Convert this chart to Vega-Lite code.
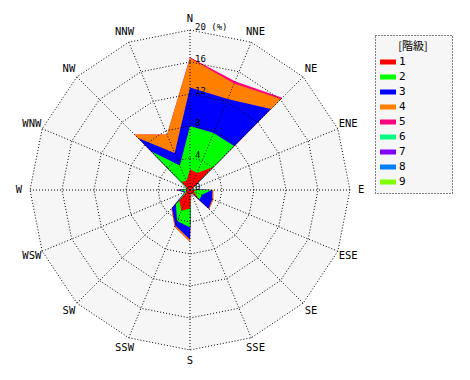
{
  "$schema": "https://vega.github.io/schema/vega-lite/v6.json",
  "width": 470,
  "height": 380,
  "padding": 0,
  "autosize": {"type": "none"},
  "background": "white",
  "config": {"view": {"stroke": null}, "axis": {"disable": true}},
  "datasets": {
    "wind": [
      {"dir":"N","deg":0,"class":1,"v":2.6},{"dir":"N","deg":0,"class":2,"v":5.4},{"dir":"N","deg":0,"class":3,"v":4.8},{"dir":"N","deg":0,"class":4,"v":3.7},{"dir":"N","deg":0,"class":5,"v":0.1},
      {"dir":"NNE","deg":22.5,"class":1,"v":2.3},{"dir":"NNE","deg":22.5,"class":2,"v":5.4},{"dir":"NNE","deg":22.5,"class":3,"v":4.6},{"dir":"NNE","deg":22.5,"class":4,"v":2.1},{"dir":"NNE","deg":22.5,"class":5,"v":0.3},
      {"dir":"NE","deg":45,"class":1,"v":4.0},{"dir":"NE","deg":45,"class":2,"v":3.8},{"dir":"NE","deg":45,"class":3,"v":6.5},{"dir":"NE","deg":45,"class":4,"v":1.8},{"dir":"NE","deg":45,"class":5,"v":0.2},
      {"dir":"ENE","deg":67.5,"class":1,"v":0.2},{"dir":"ENE","deg":67.5,"class":2,"v":0.05},{"dir":"ENE","deg":67.5,"class":3,"v":0.05},{"dir":"ENE","deg":67.5,"class":4,"v":0},{"dir":"ENE","deg":67.5,"class":5,"v":0},
      {"dir":"E","deg":90,"class":1,"v":0.8},{"dir":"E","deg":90,"class":2,"v":1.9},{"dir":"E","deg":90,"class":3,"v":0.1},{"dir":"E","deg":90,"class":4,"v":0.1},{"dir":"E","deg":90,"class":5,"v":0},
      {"dir":"ESE","deg":112.5,"class":1,"v":0.5},{"dir":"ESE","deg":112.5,"class":2,"v":1.1},{"dir":"ESE","deg":112.5,"class":3,"v":1.4},{"dir":"ESE","deg":112.5,"class":4,"v":0.15},{"dir":"ESE","deg":112.5,"class":5,"v":0},
      {"dir":"SE","deg":135,"class":1,"v":1.5},{"dir":"SE","deg":135,"class":2,"v":0.2},{"dir":"SE","deg":135,"class":3,"v":1.6},{"dir":"SE","deg":135,"class":4,"v":0.1},{"dir":"SE","deg":135,"class":5,"v":0},
      {"dir":"SSE","deg":157.5,"class":1,"v":0.3},{"dir":"SSE","deg":157.5,"class":2,"v":0.05},{"dir":"SSE","deg":157.5,"class":3,"v":0.05},{"dir":"SSE","deg":157.5,"class":4,"v":0},{"dir":"SSE","deg":157.5,"class":5,"v":0},
      {"dir":"S","deg":180,"class":1,"v":2.3},{"dir":"S","deg":180,"class":2,"v":2.4},{"dir":"S","deg":180,"class":3,"v":1.5},{"dir":"S","deg":180,"class":4,"v":0.3},{"dir":"S","deg":180,"class":5,"v":0},
      {"dir":"SSW","deg":202.5,"class":1,"v":2.8},{"dir":"SSW","deg":202.5,"class":2,"v":1.4},{"dir":"SSW","deg":202.5,"class":3,"v":0.6},{"dir":"SSW","deg":202.5,"class":4,"v":0.2},{"dir":"SSW","deg":202.5,"class":5,"v":0},
      {"dir":"SW","deg":225,"class":1,"v":1.9},{"dir":"SW","deg":225,"class":2,"v":0.6},{"dir":"SW","deg":225,"class":3,"v":0.7},{"dir":"SW","deg":225,"class":4,"v":0.1},{"dir":"SW","deg":225,"class":5,"v":0},
      {"dir":"WSW","deg":247.5,"class":1,"v":0.4},{"dir":"WSW","deg":247.5,"class":2,"v":0.2},{"dir":"WSW","deg":247.5,"class":3,"v":0.1},{"dir":"WSW","deg":247.5,"class":4,"v":0},{"dir":"WSW","deg":247.5,"class":5,"v":0},
      {"dir":"W","deg":270,"class":1,"v":0.5},{"dir":"W","deg":270,"class":2,"v":0.8},{"dir":"W","deg":270,"class":3,"v":0.4},{"dir":"W","deg":270,"class":4,"v":0.1},{"dir":"W","deg":270,"class":5,"v":0},
      {"dir":"WNW","deg":292.5,"class":1,"v":0.3},{"dir":"WNW","deg":292.5,"class":2,"v":0.05},{"dir":"WNW","deg":292.5,"class":3,"v":0.05},{"dir":"WNW","deg":292.5,"class":4,"v":0},{"dir":"WNW","deg":292.5,"class":5,"v":0},
      {"dir":"NW","deg":315,"class":1,"v":1.5},{"dir":"NW","deg":315,"class":2,"v":5.3},{"dir":"NW","deg":315,"class":3,"v":2.4},{"dir":"NW","deg":315,"class":4,"v":0.6},{"dir":"NW","deg":315,"class":5,"v":0},
      {"dir":"NNW","deg":337.5,"class":1,"v":1.2},{"dir":"NNW","deg":337.5,"class":2,"v":2.1},{"dir":"NNW","deg":337.5,"class":3,"v":1.7},{"dir":"NNW","deg":337.5,"class":4,"v":2.5},{"dir":"NNW","deg":337.5,"class":5,"v":0}
    ],
    "rings": [
      {"r":4,"deg":[0,22.5,45,67.5,90,112.5,135,157.5,180,202.5,225,247.5,270,292.5,315,337.5]},
      {"r":8,"deg":[0,22.5,45,67.5,90,112.5,135,157.5,180,202.5,225,247.5,270,292.5,315,337.5]},
      {"r":12,"deg":[0,22.5,45,67.5,90,112.5,135,157.5,180,202.5,225,247.5,270,292.5,315,337.5]},
      {"r":16,"deg":[0,22.5,45,67.5,90,112.5,135,157.5,180,202.5,225,247.5,270,292.5,315,337.5]},
      {"r":20,"deg":[0,22.5,45,67.5,90,112.5,135,157.5,180,202.5,225,247.5,270,292.5,315,337.5]}
    ],
    "dirs": [
      {"dir":"N","deg":0},{"dir":"NNE","deg":22.5},{"dir":"NE","deg":45},{"dir":"ENE","deg":67.5},
      {"dir":"E","deg":90},{"dir":"ESE","deg":112.5},{"dir":"SE","deg":135},{"dir":"SSE","deg":157.5},
      {"dir":"S","deg":180},{"dir":"SSW","deg":202.5},{"dir":"SW","deg":225},{"dir":"WSW","deg":247.5},
      {"dir":"W","deg":270},{"dir":"WNW","deg":292.5},{"dir":"NW","deg":315},{"dir":"NNW","deg":337.5}
    ],
    "ringlabels": [
      {"r":0,"t":"0"},{"r":4,"t":"4"},{"r":8,"t":"8"},{"r":12,"t":"12"},{"r":16,"t":"16"},{"r":20,"t":"20 (%)"}
    ]
  },
  "layer": [
    {
      "data": {"name": "rings"},
      "transform": [
        {"filter": "datum.r == 20"},
        {"flatten": ["deg"]},
        {"calculate": "datum.r * sin(datum.deg * PI / 180)", "as": "x"},
        {"calculate": "datum.r * cos(datum.deg * PI / 180)", "as": "y"}
      ],
      "mark": {"type": "line", "filled": true, "color": "#f6f6f6", "strokeWidth": 0, "interpolate": "linear-closed"},
      "encoding": {
        "x": {"field": "x", "type": "quantitative", "scale": {"domain": [-23.75, 35], "nice": false, "zero": false}},
        "y": {"field": "y", "type": "quantitative", "scale": {"domain": [-23.75, 23.75], "nice": false, "zero": false}},
        "order": {"field": "deg", "type": "quantitative"}
      }
    },
    {
      "data": {"name": "wind"},
      "transform": [
        {"window": [{"op": "sum", "field": "v", "as": "cum"}], "groupby": ["dir"], "sort": [{"field": "class"}], "frame": [null, 0]},
        {"calculate": "datum.cum * sin(datum.deg * PI / 180)", "as": "x"},
        {"calculate": "datum.cum * cos(datum.deg * PI / 180)", "as": "y"}
      ],
      "layer": [
        {
          "transform": [{"filter": "datum.class == 5"}],
          "mark": {"type": "line", "filled": true, "strokeWidth": 0, "interpolate": "linear-closed"},
          "encoding": {
            "x": {"field": "x", "type": "quantitative", "scale": {"domain": [-23.75, 35], "nice": false, "zero": false}},
            "y": {"field": "y", "type": "quantitative", "scale": {"domain": [-23.75, 23.75], "nice": false, "zero": false}},
            "order": {"field": "deg", "type": "quantitative"},
            "color": {
              "field": "class", "type": "nominal",
              "scale": {"domain": [1,2,3,4,5,6,7,8,9], "range": ["#ff0000","#00ff00","#0000ff","#ff8000","#ff0080","#00ff80","#8000ff","#0080ff","#80ff00"]},
              "legend": {
                "title": "[階級]",
                "orient": "none",
                "legendX": 375,
                "legendY": 35,
                "padding": 6,
                "fillColor": "#f6f6f6",
                "strokeColor": "black",
                "titleFont": "Noto Sans CJK JP",
                "titleFontSize": 11,
                "titleFontWeight": "normal",
                "titleColor": "black",
                "titleAnchor": "middle",
                "titlePadding": 4,
                "labelFont": "DejaVu Sans Mono",
                "labelFontSize": 11,
                "labelColor": "black",
                "labelExpr": "datum.label + '\u2800\u2800\u2800\u2800\u2800'",
                "labelOffset": 5,
                "symbolType": "M-1.333,-0.417H1.333V0.417H-1.333Z",
                "symbolSize": 144,
                "symbolOffset": 1,
                "symbolStrokeWidth": 0,
                "rowPadding": 4,
                "encode": {
                  "legend": {"update": {"strokeDash": {"value": [1, 2]}}},
                  "symbols": {"update": {"fill": {"scale": "color", "field": "value"}, "stroke": {"value": "transparent"}, "opacity": {"value": 1}}}
                }
              }
            }
          }
        },
        {
          "transform": [{"filter": "datum.class == 4"}],
          "mark": {"type": "line", "filled": true, "strokeWidth": 0, "interpolate": "linear-closed"},
          "encoding": {
            "x": {"field": "x", "type": "quantitative", "scale": {"domain": [-23.75, 35], "nice": false, "zero": false}},
            "y": {"field": "y", "type": "quantitative", "scale": {"domain": [-23.75, 23.75], "nice": false, "zero": false}},
            "order": {"field": "deg", "type": "quantitative"},
            "color": {"field": "class", "type": "nominal"}
          }
        },
        {
          "transform": [{"filter": "datum.class == 3"}],
          "mark": {"type": "line", "filled": true, "strokeWidth": 0, "interpolate": "linear-closed"},
          "encoding": {
            "x": {"field": "x", "type": "quantitative", "scale": {"domain": [-23.75, 35], "nice": false, "zero": false}},
            "y": {"field": "y", "type": "quantitative", "scale": {"domain": [-23.75, 23.75], "nice": false, "zero": false}},
            "order": {"field": "deg", "type": "quantitative"},
            "color": {"field": "class", "type": "nominal"}
          }
        },
        {
          "transform": [{"filter": "datum.class == 2"}],
          "mark": {"type": "line", "filled": true, "strokeWidth": 0, "interpolate": "linear-closed"},
          "encoding": {
            "x": {"field": "x", "type": "quantitative", "scale": {"domain": [-23.75, 35], "nice": false, "zero": false}},
            "y": {"field": "y", "type": "quantitative", "scale": {"domain": [-23.75, 23.75], "nice": false, "zero": false}},
            "order": {"field": "deg", "type": "quantitative"},
            "color": {"field": "class", "type": "nominal"}
          }
        },
        {
          "transform": [{"filter": "datum.class == 1"}],
          "mark": {"type": "line", "filled": true, "strokeWidth": 0, "interpolate": "linear-closed"},
          "encoding": {
            "x": {"field": "x", "type": "quantitative", "scale": {"domain": [-23.75, 35], "nice": false, "zero": false}},
            "y": {"field": "y", "type": "quantitative", "scale": {"domain": [-23.75, 23.75], "nice": false, "zero": false}},
            "order": {"field": "deg", "type": "quantitative"},
            "color": {"field": "class", "type": "nominal"}
          }
        }
      ]
    },
    {
      "data": {"name": "rings"},
      "transform": [
        {"flatten": ["deg"]},
        {"calculate": "datum.r * sin(datum.deg * PI / 180)", "as": "x"},
        {"calculate": "datum.r * cos(datum.deg * PI / 180)", "as": "y"}
      ],
      "mark": {"type": "line", "color": "black", "strokeWidth": 1, "strokeDash": [1, 2], "interpolate": "linear-closed"},
      "encoding": {
        "x": {"field": "x", "type": "quantitative", "scale": {"domain": [-23.75, 35], "nice": false, "zero": false}},
        "y": {"field": "y", "type": "quantitative", "scale": {"domain": [-23.75, 23.75], "nice": false, "zero": false}},
        "detail": {"field": "r", "type": "nominal"},
        "order": {"field": "deg", "type": "quantitative"}
      }
    },
    {
      "data": {"name": "dirs"},
      "transform": [
        {"calculate": "20 * sin(datum.deg * PI / 180)", "as": "sx"},
        {"calculate": "20 * cos(datum.deg * PI / 180)", "as": "sy"}
      ],
      "mark": {"type": "rule", "color": "black", "strokeWidth": 1, "strokeDash": [1, 2]},
      "encoding": {
        "x": {"field": "sx", "type": "quantitative", "scale": {"domain": [-23.75, 35], "nice": false, "zero": false}},
        "y": {"field": "sy", "type": "quantitative", "scale": {"domain": [-23.75, 23.75], "nice": false, "zero": false}},
        "x2": {"datum": 0},
        "y2": {"datum": 0}
      }
    },
    {
      "data": {"name": "dirs"},
      "transform": [
        {"calculate": "21.4 * sin(datum.deg * PI / 180)", "as": "lx"},
        {"calculate": "21.4 * cos(datum.deg * PI / 180)", "as": "ly"}
      ],
      "mark": {"type": "text", "font": "DejaVu Sans Mono", "fontSize": 10.5, "color": "black", "align": "center", "baseline": "middle"},
      "encoding": {
        "x": {"field": "lx", "type": "quantitative", "scale": {"domain": [-23.75, 35], "nice": false, "zero": false}},
        "y": {"field": "ly", "type": "quantitative", "scale": {"domain": [-23.75, 23.75], "nice": false, "zero": false}},
        "text": {"field": "dir"}
      }
    },
    {
      "data": {"name": "ringlabels"},
      "mark": {"type": "text", "font": "DejaVu Sans Mono", "fontSize": 9, "color": "black", "align": "left", "baseline": "alphabetic", "dx": 5},
      "encoding": {
        "x": {"datum": 0, "type": "quantitative", "scale": {"domain": [-23.75, 35], "nice": false, "zero": false}},
        "y": {"field": "r", "type": "quantitative", "scale": {"domain": [-23.75, 23.75], "nice": false, "zero": false}},
        "text": {"field": "t"}
      }
    }
  ]
}
